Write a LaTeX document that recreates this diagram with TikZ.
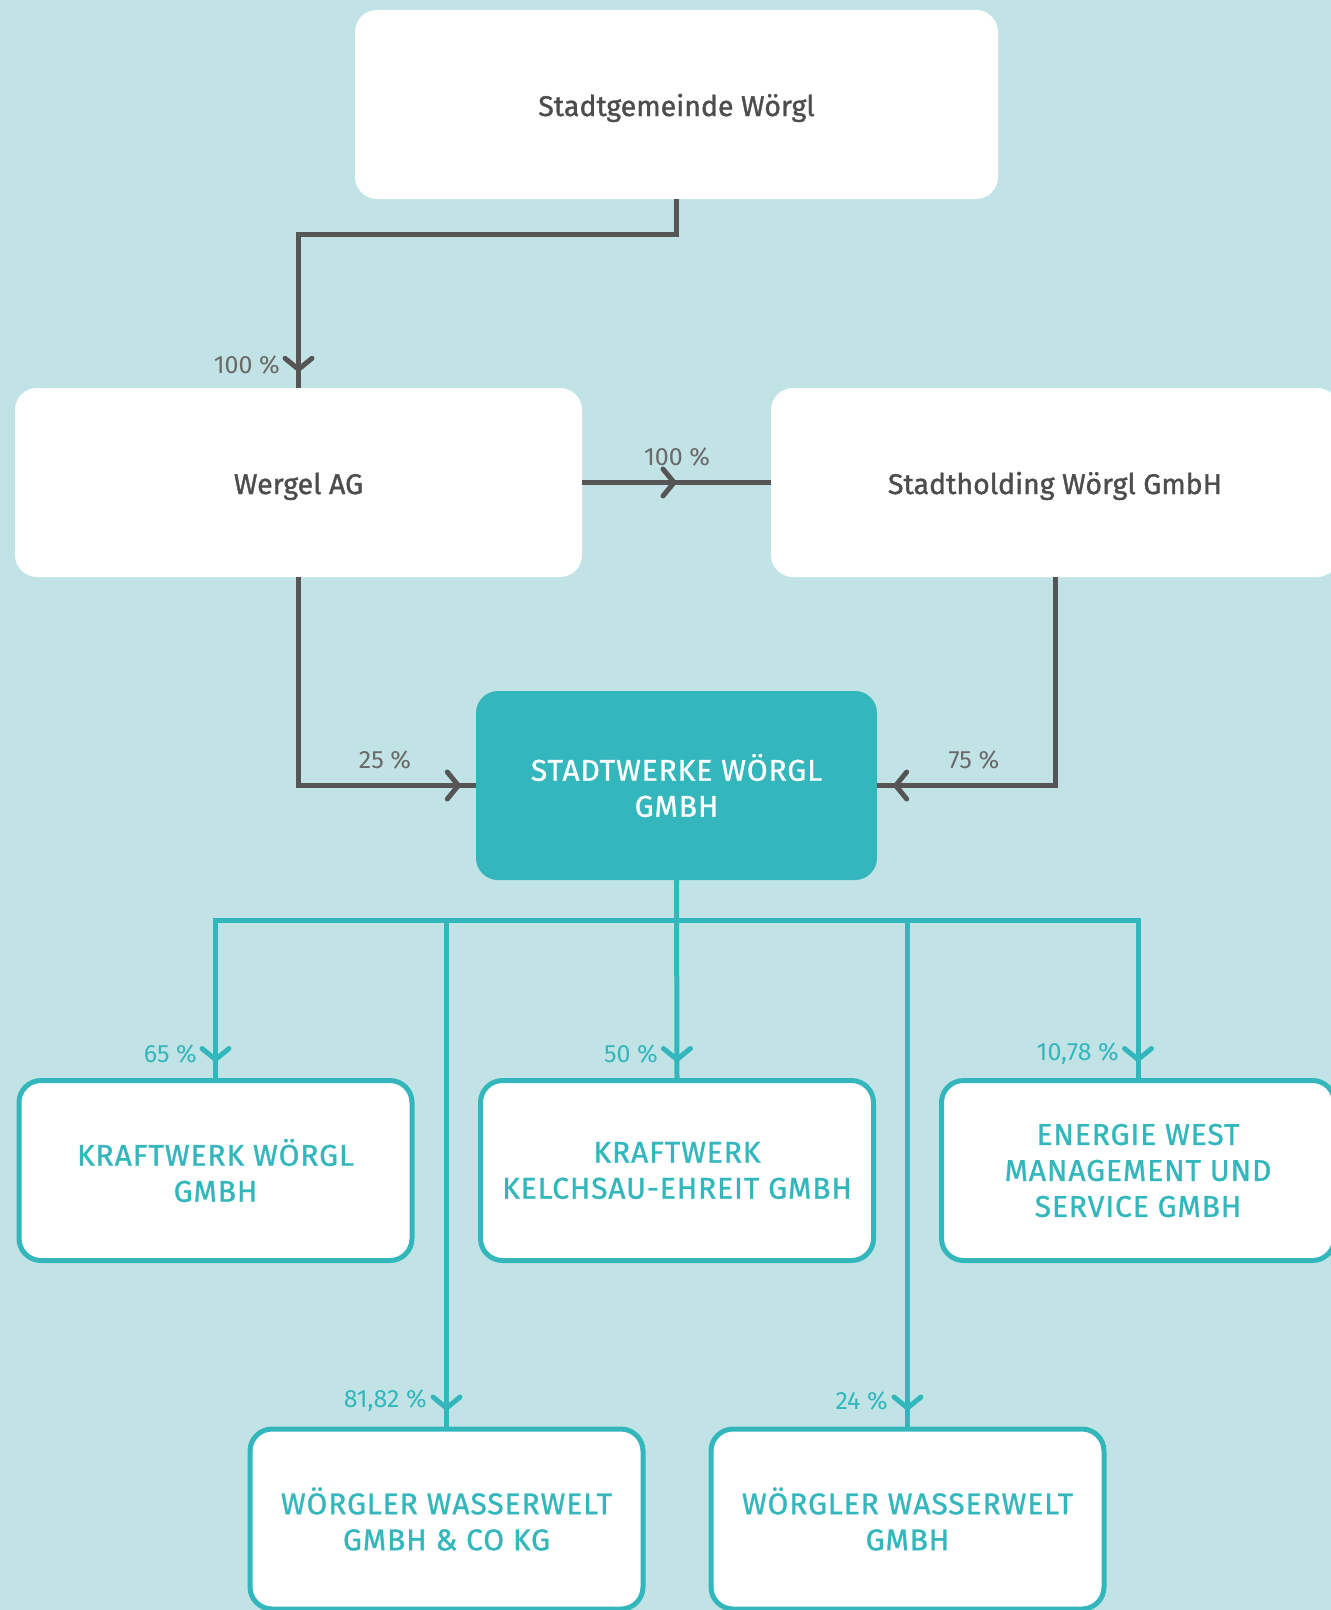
\documentclass[tikz,border=0pt]{standalone}
\usepackage{fontspec}
\setmainfont{Fira Sans}
\newfontfamily\fmed{Fira Sans}[RawFeature={embolden=1.2}]
\newfontfamily\fcaps{Fira Sans}[RawFeature={embolden=1.0}, LetterSpace=3]
\newfontfamily\flight{Fira Sans}
\usetikzlibrary{decorations.markings,arrows.meta}
\definecolor{bgc}{HTML}{C2E3E5}
\definecolor{tealc}{HTML}{33B7BD}
\definecolor{grayl}{HTML}{555555}
\definecolor{grayt}{HTML}{4D4D4D}
\definecolor{grayp}{HTML}{6A6A6A}
\tikzset{
  whitebox/.style={rectangle, rounded corners=22pt, fill=white, inner sep=0pt, align=center,
    font=\fmed\fontsize{28.5}{34}\selectfont, text=grayt, text height=24pt, text depth=1pt},
  tealbox/.style={rectangle, rounded corners=22pt, fill=tealc, inner sep=0pt, align=center,
    font=\fcaps\fontsize{30}{36}\selectfont, text=white},
  subbox/.style={rectangle, rounded corners=22pt, fill=white, draw=tealc, line width=5pt, inner sep=0pt, align=center,
    font=\fcaps\fontsize{30}{36}\selectfont, text=tealc, minimum height=180pt},
  chev/.style={decoration={markings, mark=at position #1 with {\arrow{Straight Barb[length=11pt,width=27pt,line width=5pt,line cap=round,line join=round]}}}, postaction={decorate}},
  gline/.style={draw=grayl, line width=5pt},
  tline/.style={draw=tealc, line width=5pt},
  gpct/.style={font=\flight\fontsize{25}{30}\selectfont, text=grayp, inner sep=0pt},
  tpct/.style={font=\flight\fontsize{25}{30}\selectfont, text=tealc, inner sep=0pt},
}
\begin{document}
\begin{tikzpicture}[x=1pt,y=-1pt]
\useasboundingbox (0,0) rectangle (1331,1610);
\clip (0,0) rectangle (1331,1610);
\fill[bgc] (0,0) rectangle (1331,1610);

\node[whitebox, minimum width=643pt, minimum height=189pt] (sg) at (676.5,104.5) {Stadtgemeinde Wörgl};
\node[whitebox, minimum width=567pt, minimum height=189pt] (wa) at (298.5,482.5) {Wergel AG};
\node[whitebox, minimum width=568pt, minimum height=189pt] (sh) at (1055,482.5) {Stadtholding Wörgl GmbH};
\node[tealbox, minimum width=401pt, minimum height=189pt] (sw) at (676.5,785.5) {STADTWERKE WÖRGL\\GMBH};

\node[subbox, minimum width=393pt] (k1) at (215.5,1170.5) {KRAFTWERK WÖRGL\\GMBH};
\node[subbox, minimum width=393pt] (k2) at (677,1170.5) {KRAFTWERK\\KELCHSAU-EHREIT GMBH};
\node[subbox, minimum width=393pt] (k3) at (1138,1170.5) {ENERGIE WEST\\MANAGEMENT UND\\SERVICE GMBH};
\node[subbox, minimum width=393pt] (w1) at (446.5,1519) {WÖRGLER WASSERWELT\\GMBH \& CO KG};
\node[subbox, minimum width=393pt] (w2) at (907.5,1519) {WÖRGLER WASSERWELT\\GMBH};

% gray connectors
\draw[gline, chev=-16pt] (sg.south) -- ++(0,35) -| (wa.north);
\draw[gline, chev=0.5] (wa.east) -- (sh.west);
\draw[gline, chev=-15pt] (wa.south) |- (sw.west);
\draw[gline, chev=-16pt] (sh.south) |- (sw.east);

% teal connectors
\draw[tline, chev=-16pt] (sw.south) -- ++(0,40) -| (k1.north);
\draw[tline, chev=-16pt] (sw.south) -- (k2.north);
\draw[tline, chev=-16pt] (sw.south) -- ++(0,40) -| (k3.north);
\draw[tline, chev=-16pt] (sw.south) -- ++(0,40) -| (w1.north);
\draw[tline, chev=-16pt] (sw.south) -- ++(0,40) -| (w2.north);

% labels
\node[gpct, anchor=east] (l1) at (280,365) {100 \%};
\node[gpct] (l2) at (677,457) {100 \%};
\node[gpct] (l3) at (385,760) {25 \%};
\node[gpct] (l4) at (974,760) {75 \%};
\node[tpct, anchor=east] (l5) at (197,1054) {65 \%};
\node[tpct, anchor=east] (l6) at (658,1054) {50 \%};
\node[tpct, anchor=east] (l7) at (1119,1054) {10,78 \%};
\node[tpct, anchor=east] (l8) at (427,1401) {81,82 \%};
\node[tpct, anchor=east] (l9) at (888,1401) {24 \%};
\end{tikzpicture}
\end{document}
